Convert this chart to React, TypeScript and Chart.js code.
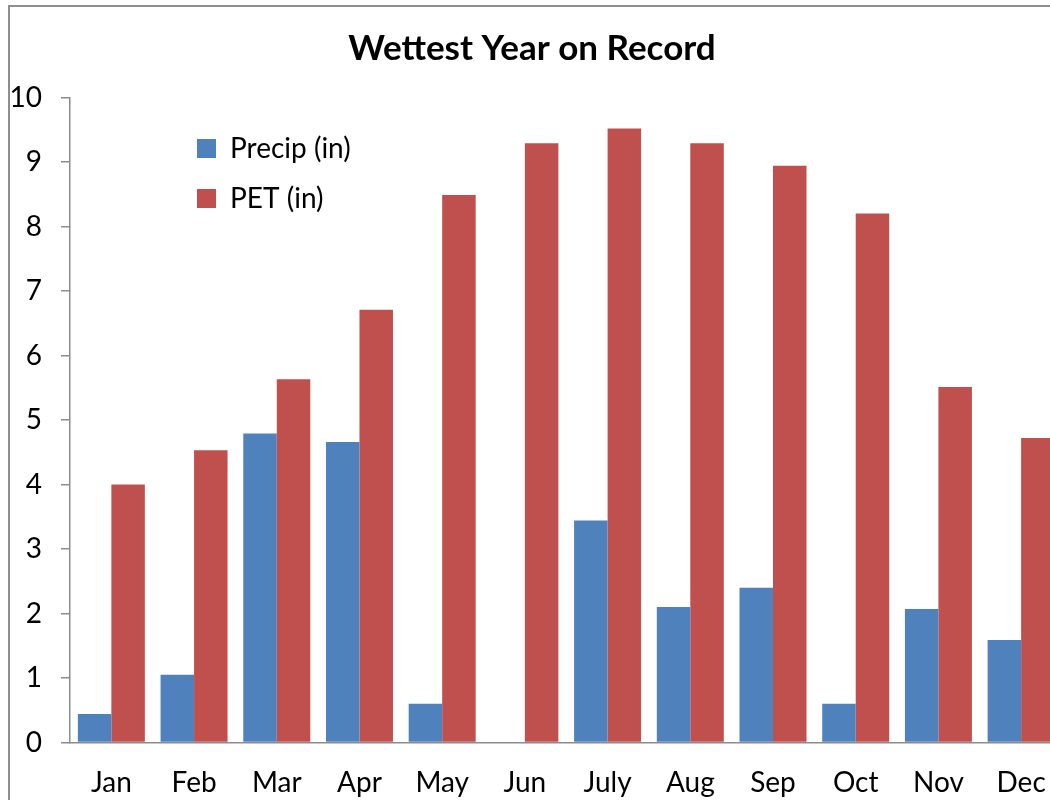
import React, { useEffect, useRef } from 'react';
import { Chart, registerables } from 'chart.js';

Chart.register(...registerables);

const titleText = 'Wettest Year on Record';
const months = ['Jan', 'Feb', 'Mar', 'Apr', 'May', 'Jun', 'July', 'Aug', 'Sep', 'Oct', 'Nov', 'Dec'];
const precipLabel = 'Precip (in)';
const petLabel = 'PET (in)';
const precip = [0.44, 1.05, 4.79, 4.66, 0.6, 0, 3.44, 2.1, 2.4, 0.6, 2.07, 1.59];
const pet = [4.0, 4.53, 5.63, 6.71, 8.49, 9.29, 9.52, 9.29, 8.94, 8.2, 5.51, 4.72];
const yMin = 0;
const yMax = 10;
const yStep = 1;

const FONT = 'Lato';
const AXIS_GRAY = '#8c8c8c';

// Place the legend inside the plot area, offset from its top-left corner.
const legendShift = {
  id: 'legendShift',
  afterLayout(chart: any) {
    const lg = chart.legend;
    const area = chart.chartArea;
    if (lg && area) {
      const w = lg.width;
      const h = lg.height;
      lg.left = area.left + 105;
      lg.right = lg.left + w;
      lg.top = area.top + 15;
      lg.bottom = lg.top + h;
    }
  },
};

export default function App() {
  const ref = useRef<HTMLCanvasElement | null>(null);

  useEffect(() => {
    if (!ref.current) return;
    const chart = new Chart(ref.current, {
      type: 'bar',
      data: {
        labels: months,
        datasets: [
          {
            label: precipLabel,
            data: precip,
            backgroundColor: '#4F81BD',
            borderWidth: 0,
            categoryPercentage: 0.81,
            barPercentage: 1,
          },
          {
            label: petLabel,
            data: pet,
            backgroundColor: '#C0504D',
            borderWidth: 0,
            categoryPercentage: 0.81,
            barPercentage: 1,
          },
        ],
      },
      options: {
        responsive: false,
        animation: false,
        devicePixelRatio: 1,
        layout: { padding: { left: 0, right: 6, top: 0, bottom: 0 } },
        plugins: {
          title: {
            display: true,
            text: titleText,
            color: '#000',
            font: { family: FONT, size: 35, weight: 'bold' },
            padding: { top: 27.5, bottom: 28 },
          },
          legend: {
            display: true,
            position: 'chartArea',
            align: 'start',
            labels: {
              color: '#000',
              font: { family: FONT, size: 28 },
              boxWidth: 19,
              boxHeight: 19,
              padding: 22,
            },
          },
          tooltip: { enabled: false },
        },
        scales: {
          x: {
            grid: { display: true, drawOnChartArea: false, drawTicks: false },
            border: { display: true, color: AXIS_GRAY, width: 1.5 },
            ticks: {
              color: '#000',
              font: { family: FONT, size: 28 },
              padding: 24,
              maxRotation: 0,
              autoSkip: false,
            },
            afterFit(scale: any) {
              scale.height = 830 - 742.5;
            },
          },
          y: {
            min: yMin,
            max: yMax,
            grid: {
              display: true,
              drawOnChartArea: false,
              drawTicks: true,
              tickLength: 9,
              color: AXIS_GRAY,
              lineWidth: 1.5,
            },
            border: { display: true, color: AXIS_GRAY, width: 1.5 },
            ticks: {
              stepSize: yStep,
              color: '#000',
              font: { family: FONT, size: 28 },
              padding: 19,
            },
            afterFit(scale: any) {
              scale.width = 70;
            },
          },
        },
      },
      plugins: [legendShift],
    });
    return () => chart.destroy();
  }, []);

  return (
    <div
      style={{
        position: 'fixed',
        left: 0,
        top: 0,
        width: 1050,
        height: 800,
        overflow: 'hidden',
        background: '#fff',
      }}
    >
      <div
        style={{
          position: 'absolute',
          left: 8,
          top: 5,
          width: 1200,
          height: 1000,
          border: '2px solid #8e8e8e',
          boxSizing: 'border-box',
        }}
      />
      <canvas
        ref={ref}
        width={1070}
        height={830}
        style={{ position: 'absolute', left: 0, top: 0, width: 1070, height: 830 }}
      />
    </div>
  );
}
